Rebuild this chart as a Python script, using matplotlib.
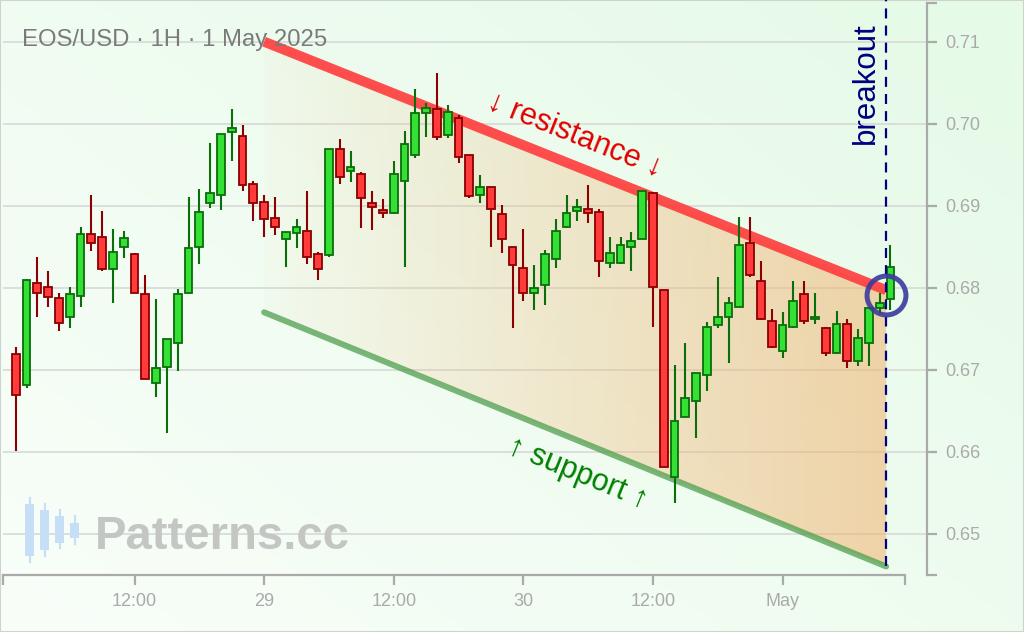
import numpy as np
import pandas as pd
import matplotlib
matplotlib.use("Agg")
import matplotlib.pyplot as plt
import matplotlib.dates as mdates
from matplotlib.patches import Polygon, Rectangle
from matplotlib.ticker import FixedLocator, NullFormatter
from matplotlib.lines import Line2D

plt.rcParams['font.family'] = ['Liberation Sans', 'DejaVu Sans']

# ---------------- data ----------------
times = pd.date_range("2025-04-28 01:00", periods=82, freq="h")
opens = [0.6719, 0.6681, 0.6806, 0.6801, 0.6787, 0.6764, 0.6790, 0.6866, 0.6862, 0.6823,
         0.6850, 0.6841, 0.6792, 0.6684, 0.6703, 0.6733, 0.6794, 0.6850, 0.6903, 0.6913,
         0.6990, 0.6985, 0.6927, 0.6905, 0.6885, 0.6859, 0.6867, 0.6869, 0.6841, 0.6840,
         0.6969, 0.6942, 0.6939, 0.6903, 0.6895, 0.6891, 0.6930, 0.6962, 0.7013, 0.7018,
         0.6986, 0.7007, 0.6962, 0.6913, 0.6923, 0.6890, 0.6850, 0.6824, 0.6794, 0.6803,
         0.6835, 0.6874, 0.6894, 0.6896, 0.6892, 0.6830, 0.6830, 0.6850, 0.6859, 0.6915,
         0.6797, 0.6569, 0.6642, 0.6662, 0.6694, 0.6755, 0.6764, 0.6776, 0.6854, 0.6808,
         0.6759, 0.6723, 0.6752, 0.6792, 0.6762, 0.6751, 0.6720, 0.6756, 0.6711, 0.6733,
         0.6775, 0.6786]
highs = [0.6728, 0.6810, 0.6837, 0.6820, 0.6794, 0.6801, 0.6874, 0.6913, 0.6894, 0.6872,
         0.6869, 0.6842, 0.6816, 0.6786, 0.6737, 0.6798, 0.6911, 0.6920, 0.6977, 0.6987,
         0.7018, 0.6998, 0.6930, 0.6913, 0.6911, 0.6868, 0.6884, 0.6918, 0.6844, 0.6969,
         0.6981, 0.6967, 0.6941, 0.6918, 0.6908, 0.6955, 0.6991, 0.7042, 0.7025, 0.7062,
         0.7023, 0.7011, 0.6962, 0.6937, 0.6923, 0.6901, 0.6850, 0.6872, 0.6828, 0.6846,
         0.6884, 0.6913, 0.6908, 0.6925, 0.6896, 0.6862, 0.6862, 0.6868, 0.6918, 0.6917,
         0.6797, 0.6706, 0.6733, 0.6696, 0.6758, 0.6813, 0.6789, 0.6886, 0.6886, 0.6833,
         0.6774, 0.6770, 0.6808, 0.6808, 0.6794, 0.6752, 0.6772, 0.6762, 0.6750, 0.6775,
         0.6794, 0.6852]
lows = [0.6601, 0.6678, 0.6764, 0.6776, 0.6747, 0.6751, 0.6776, 0.6845, 0.6820, 0.6781,
        0.6836, 0.6794, 0.6689, 0.6667, 0.6623, 0.6698, 0.6794, 0.6829, 0.6897, 0.6895,
        0.6955, 0.6918, 0.6881, 0.6862, 0.6864, 0.6825, 0.6848, 0.6829, 0.6809, 0.6837,
        0.6927, 0.6929, 0.6873, 0.6870, 0.6885, 0.6890, 0.6825, 0.6958, 0.6984, 0.6980,
        0.6983, 0.6952, 0.6909, 0.6903, 0.6850, 0.6842, 0.6751, 0.6784, 0.6773, 0.6779,
        0.6824, 0.6873, 0.6881, 0.6879, 0.6813, 0.6824, 0.6829, 0.6820, 0.6859, 0.6752,
        0.6581, 0.6537, 0.6642, 0.6617, 0.6674, 0.6751, 0.6708, 0.6776, 0.6813, 0.6761,
        0.6726, 0.6714, 0.6751, 0.6756, 0.6756, 0.6717, 0.6719, 0.6702, 0.6705, 0.6705,
        0.6768, 0.6773]
closes = [0.6669, 0.6809, 0.6794, 0.6789, 0.6757, 0.6792, 0.6866, 0.6854, 0.6823, 0.6844,
          0.6861, 0.6794, 0.6689, 0.6702, 0.6737, 0.6792, 0.6848, 0.6892, 0.6915, 0.6987,
          0.6995, 0.6925, 0.6903, 0.6884, 0.6874, 0.6868, 0.6874, 0.6837, 0.6823, 0.6969,
          0.6935, 0.6947, 0.6909, 0.6898, 0.6891, 0.6939, 0.6975, 0.7013, 0.7019, 0.6984,
          0.7014, 0.6959, 0.6912, 0.6923, 0.6896, 0.6859, 0.6828, 0.6794, 0.6800, 0.6841,
          0.6869, 0.6891, 0.6898, 0.6891, 0.6833, 0.6842, 0.6852, 0.6857, 0.6918, 0.6801,
          0.6581, 0.6637, 0.6666, 0.6696, 0.6752, 0.6764, 0.6781, 0.6852, 0.6816, 0.6762,
          0.6728, 0.6755, 0.6784, 0.6759, 0.6764, 0.6720, 0.6756, 0.6711, 0.6739, 0.6775,
          0.6781, 0.6825]

x_tick_times = pd.to_datetime(["2025-04-28 12:00", "2025-04-29 00:00", "2025-04-29 12:00",
                               "2025-04-30 00:00", "2025-04-30 12:00", "2025-05-01 00:00"])
x_tick_labels = ["12:00", "29", "12:00", "30", "12:00", "May"]
y_ticks = [0.65, 0.66, 0.67, 0.68, 0.69, 0.70, 0.71]
y_tick_labels = ["0.65", "0.66", "0.67", "0.68", "0.69", "0.70", "0.71"]

channel_times = pd.to_datetime(["2025-04-29 00:00", "2025-05-01 09:36"])
resistance_values = [0.7100, 0.6797]
support_values = [0.6770, 0.6460]
breakout_time = pd.Timestamp("2025-05-01 09:33")
breakout_value = 0.6791

title_text = "EOS/USD · 1H · 1 May 2025"

# ---------------- figure ----------------
W, H = 1024, 632
fig = plt.figure(figsize=(W / 100, H / 100), dpi=100)

def fx(px):
    return px / W

def fy(py):
    return 1 - py / H

# background gradient
bg = fig.add_axes([0, 0, 1, 1], zorder=-10)
bg.set_axis_off()
gx = np.linspace(0, 1, 256)[None, :]
gy = np.linspace(0, 1, 160)[:, None]
t = np.clip(0.55 * gx + 0.45 * (1 - gy), 0, 1)
c0 = np.array([249, 254, 249]) / 255.0
c1 = np.array([229, 250, 231]) / 255.0
img = c0[None, None, :] * (1 - t[..., None]) + c1[None, None, :] * t[..., None]
bg.imshow(img, extent=[0, 1, 0, 1], aspect='auto', origin='upper')
bg.set_xlim(0, 1)
bg.set_ylim(0, 1)
bg.add_patch(Rectangle((0, 0), 1, 1, fill=False, edgecolor='#cfd3cf', linewidth=1.5,
                       transform=bg.transAxes))

ax = fig.add_axes([fx(3), fy(575), fx(927) - fx(3), fy(3) - fy(575)])
ax.set_facecolor('none')

base = pd.Timestamp("2025-04-28 00:00")
def hnum(h):
    return mdates.date2num(base + pd.Timedelta(hours=h))

x_left = hnum(-0.18)
x_right = hnum(85.38)
x_axis_end = hnum(83.34)
ax.set_xlim(x_left, x_right)
y_bottom, y_top = 0.64496, 0.71472
ax.set_ylim(y_bottom, y_top)

# spines
for s in ['top', 'left']:
    ax.spines[s].set_visible(False)
axis_col = '#aaaaaa'
ax.spines['bottom'].set_color(axis_col)
ax.spines['right'].set_color(axis_col)
ax.spines['bottom'].set_linewidth(1.6)
ax.spines['right'].set_linewidth(1.6)
ax.spines['bottom'].set_bounds(x_left, x_axis_end)

# ticks
ax.yaxis.tick_right()
ax.set_xticks(mdates.date2num(x_tick_times))
ax.set_xticklabels(x_tick_labels)
ax.set_yticks(y_ticks)
ax.set_yticklabels(y_tick_labels)
ax.xaxis.set_minor_locator(FixedLocator([x_left + 1e-4, x_axis_end]))
ax.yaxis.set_minor_locator(FixedLocator([y_bottom + 1e-6, y_top - 1e-6]))
ax.xaxis.set_minor_formatter(NullFormatter())
ax.yaxis.set_minor_formatter(NullFormatter())
ax.tick_params(axis='both', which='both', direction='out', length=7, width=1.6,
               color=axis_col)
ax.tick_params(axis='both', which='major', labelsize=13, labelcolor='#aaaaaa', pad=6)
ax.tick_params(axis='y', which='both', right=True, left=False)

ax.grid(axis='y', which='major', color='#d9dcd9', linewidth=1.3)
ax.set_axisbelow(True)

# channel fill gradient
ct = mdates.date2num(channel_times)
poly = Polygon([(ct[0], resistance_values[0]), (ct[1], resistance_values[1]),
                (ct[1], support_values[1]), (ct[0], support_values[0])],
               closed=True, facecolor='none', edgecolor='none')
ax.add_patch(poly)
ramp = np.linspace(0.03, 0.55, 256)[None, :]
fill_rgba = np.zeros((2, 256, 4))
fill_rgba[..., 0] = 240 / 255
fill_rgba[..., 1] = 178 / 255
fill_rgba[..., 2] = 110 / 255
fill_rgba[..., 3] = ramp
im = ax.imshow(fill_rgba, extent=[ct[0], ct[1], min(support_values), max(resistance_values)],
               aspect='auto', origin='lower', zorder=1, interpolation='bilinear')
im.set_clip_path(poly)

# channel lines
ax.plot(ct, resistance_values, color='#ff3b3b', alpha=0.9, linewidth=7.2,
        solid_capstyle='butt', zorder=2)
ax.plot(ct, support_values, color='#4f9f4f', alpha=0.75, linewidth=4.3,
        solid_capstyle='round', zorder=2)

# candles
tx = mdates.date2num(times)
o = np.array(opens); c = np.array(closes); hi = np.array(highs); lo = np.array(lows)
up = c >= o
wick_cols = np.where(up, '#0a6e0a', '#8b0000')
ax.vlines(tx, lo, hi, colors=wick_cols, linewidth=1.5, zorder=3)
bw = 0.72 / 24
bottoms = np.minimum(o, c)
heights = np.maximum(np.abs(c - o), 0.00004)
ax.bar(tx[up], heights[up], bottom=bottoms[up], width=bw, color='#33e033',
       edgecolor='#0a6e0a', linewidth=1.3, zorder=4)
ax.bar(tx[~up], heights[~up], bottom=bottoms[~up], width=bw, color='#ff3b3b',
       edgecolor='#8b0000', linewidth=1.3, zorder=4)

# breakout marker
bt = mdates.date2num(breakout_time)
ax.plot([bt, bt], [support_values[1], 0.7152], color='#000080', linewidth=1.6,
        linestyle=(0, (4.5, 3.2)), zorder=5, clip_on=False)
ax.plot([bt], [breakout_value], marker='o', markersize=28, markerfacecolor='none',
        markeredgecolor='#3a3a9e', markeredgewidth=3.6, alpha=0.9, zorder=6)

# annotation texts
def angle_of(vals):
    p0 = ax.transData.transform((ct[0], vals[0]))
    p1 = ax.transData.transform((ct[1], vals[1]))
    return np.degrees(np.arctan2(p1[1] - p0[1], p1[0] - p0[0]))

ax.text(hnum(52.8), 0.6986, "↓ resistance ↓", color='#e00000', fontsize=22,
        rotation=angle_of(resistance_values), rotation_mode='anchor',
        ha='center', va='center', zorder=7)
ax.text(hnum(53.0), 0.6574, "↑ support ↑", color='#008000', fontsize=22,
        rotation=angle_of(support_values), rotation_mode='anchor',
        ha='center', va='center', zorder=7)
ax.text(hnum(79.7), 0.7050, "breakout", color='#000080', fontsize=22.5, rotation=90,
        ha='center', va='center', zorder=7)

# title
fig.text(fx(22), fy(40), title_text, color='#7a7a7a', fontsize=17.2, ha='left', va='center')

# watermark
wm_col = '#c6dff6'
for (xl, xr, bt_, bb_, wt, wb) in [(25, 34, 504, 556, 498, 562), (40, 49, 510, 550, 504, 556),
                                  (55, 64, 516, 543, 510, 548), (70, 79, 523, 538, 516, 544)]:
    xm = (xl + xr) / 2
    fig.add_artist(Line2D([fx(xm), fx(xm)], [fy(wt), fy(wb)], color=wm_col, linewidth=1.5,
                          transform=fig.transFigure))
    fig.add_artist(Rectangle((fx(xl), fy(bb_)), fx(xr) - fx(xl), fy(bt_) - fy(bb_),
                             facecolor=wm_col, edgecolor='none', transform=fig.transFigure))
fig.text(fx(95), fy(549), "Patterns.cc", color='#c4c6c4', fontsize=34, fontweight='bold',
         ha='left', va='baseline')

fig.savefig("out.png", dpi=100)
